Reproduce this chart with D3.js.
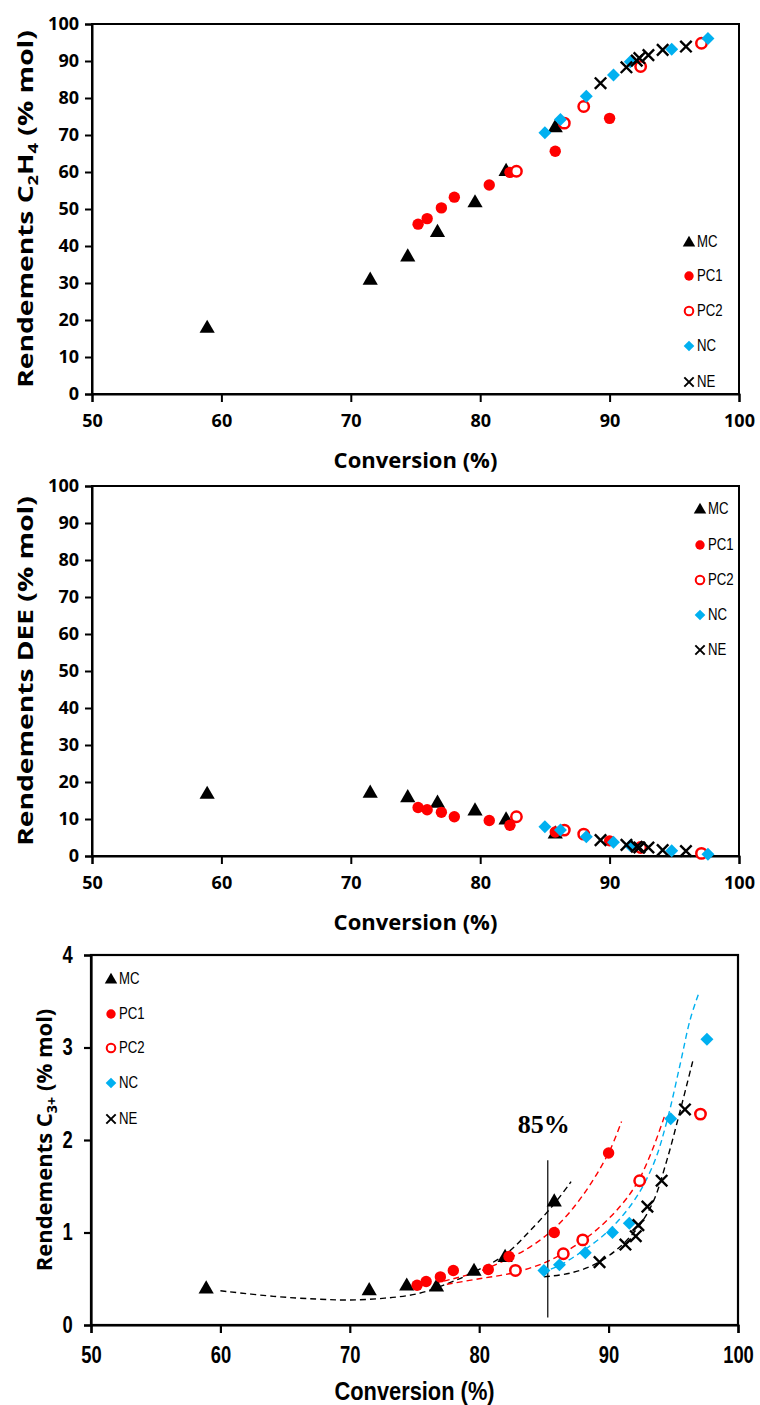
<!DOCTYPE html>
<html><head><meta charset="utf-8">
<script src="https://cdn.jsdelivr.net/npm/d3@7"></script>
<style>body{margin:0;background:#fff}svg{display:block}</style>
</head><body>
<svg id="c" width="760" height="1405"></svg>
<script>
// ---------- DATA ----------
const seriesNames = ["MC", "PC1", "PC2", "NC", "NE"];

const convMC  = [58.9, 71.5, 74.4, 76.7, 79.6, 82.0, 85.8];
const convPC1 = [75.2, 75.9, 77.0, 78.0, 80.7, 82.3, 85.8, 90.0];
const convPC2 = [82.8, 86.5, 88.0, 92.4, 97.1];
const convNC  = [85.0, 86.2, 88.2, 90.3, 91.6, 94.8, 97.6];
const convNE  = [89.3, 91.3, 92.1, 92.3, 93.0, 94.1, 95.9];

// Rendements C2H4 (% mol)
const ethMC  = [18.0, 31.0, 37.3, 43.9, 51.9, 60.4, 72.2];
const ethPC1 = [45.9, 47.4, 50.3, 53.2, 56.5, 59.9, 65.6, 74.5];
const ethPC2 = [60.2, 73.2, 77.7, 88.5, 94.8];
const ethNC  = [70.6, 74.2, 80.5, 86.2, 89.8, 93.2, 96.1];
const ethNE  = [84.0, 88.3, 90.1, 90.8, 91.6, 93.0, 93.9];

// Rendements DEE (% mol)
const deeMC  = [16.9, 17.2, 16.0, 14.5, 12.4, 10.0, 6.2];
const deePC1 = [13.1, 12.5, 11.8, 10.6, 9.6, 8.3, 6.5, 4.1];
const deePC2 = [10.6, 7.0, 5.9, 2.3, 0.7];
const deeNC  = [7.9, 7.0, 5.2, 3.7, 2.8, 1.4, 0.5];
const deeNE  = [4.3, 3.0, 2.5, 2.3, 2.3, 1.6, 1.35];

// Rendements C3+ (% mol)
const c3MC  = [0.40, 0.38, 0.43, 0.42, 0.59, 0.74, 1.34];
const c3PC1 = [0.43, 0.47, 0.52, 0.59, 0.60, 0.74, 1.00, 1.86];
const c3PC2 = [0.59, 0.77, 0.92, 1.56, 2.28];
const c3NC  = [0.59, 0.65, 0.78, 1.00, 1.10, 2.23, 3.09];
const c3NE  = [0.68, 0.87, 0.96, 1.08, 1.28, 1.56, 2.33];

// dashed trend curves (C3+ chart)
const trendMCx  = [60.0, 64.1, 67.5, 70.0, 72.7, 75.3, 77.6, 79.7, 82.0, 84.0, 85.8, 87.1];
const trendMCy  = [0.37, 0.31, 0.28, 0.27, 0.29, 0.34, 0.45, 0.58, 0.76, 1.03, 1.31, 1.55];
const trendPC1x = [76.5, 78.0, 80.0, 82.0, 84.0, 86.0, 88.0, 90.0, 91.0];
const trendPC1y = [0.45, 0.50, 0.58, 0.70, 0.85, 1.07, 1.40, 1.86, 2.20];
const trendPC2x = [77.5, 80.0, 82.5, 85.0, 87.0, 89.0, 91.0, 92.3, 93.4, 94.3];
const trendPC2y = [0.44, 0.50, 0.56, 0.67, 0.82, 1.02, 1.30, 1.56, 1.90, 2.25];
const trendNCx  = [84.8, 86.0, 88.0, 90.0, 92.0, 93.5, 94.5, 95.5, 96.3, 97.0];
const trendNCy  = [0.57, 0.63, 0.80, 1.02, 1.35, 1.75, 2.20, 2.80, 3.30, 3.60];
const trendNEx  = [85.0, 87.0, 89.0, 91.0, 92.5, 93.5, 94.5, 95.5, 96.5];
const trendNEy  = [0.52, 0.56, 0.66, 0.86, 1.10, 1.35, 1.78, 2.30, 2.85];

const refLineX = [85.3, 85.3];
const refLineY = [0.08, 1.78];
const refLabel = "85%";

const xTicks = [50, 60, 70, 80, 90, 100];
const yTicksPct = [0, 10, 20, 30, 40, 50, 60, 70, 80, 90, 100];
const yTicksC3 = [0, 1, 2, 3, 4];

// ---------- DRAW ----------
const svg = d3.select("#c");
const RED = "#ff0000", BLUE = "#00b0f0", BLK = "#000";
const FONT = "'Open Sans', 'Noto Sans', sans-serif";
const SANS = "'Liberation Sans', Arial, sans-serif";

function zipPts(xs, ys) { return xs.map((x, i) => ({x: x, y: ys[i]})); }

const styles = {
  MC:  {shape: "tri",  color: BLK},
  PC1: {shape: "dot",  color: RED},
  PC2: {shape: "ring", color: RED},
  NC:  {shape: "dia",  color: BLUE},
  NE:  {shape: "x",    color: BLK}
};

function marker(g, shape, color, cx, cy, s) {
  s = s || 1;
  if (shape === "tri") {
    g.append("path").attr("d", d3.symbol(d3.symbolTriangle, 100 * s * s)())
      .attr("transform", `translate(${cx},${cy + 1})`).attr("fill", color);
  } else if (shape === "dot") {
    g.append("circle").attr("cx", cx).attr("cy", cy).attr("r", 5.7 * s).attr("fill", color);
  } else if (shape === "ring") {
    g.append("circle").attr("cx", cx).attr("cy", cy).attr("r", 5.2 * s)
      .attr("fill", "#fff").attr("stroke", color).attr("stroke-width", 2.5 * s);
  } else if (shape === "dia") {
    g.append("path").attr("d", d3.symbol(d3.symbolSquare, 84 * s * s)())
      .attr("transform", `translate(${cx},${cy}) rotate(45)`).attr("fill", color);
  } else if (shape === "x") {
    const r = 5.7 * s;
    g.append("path").attr("d", `M${cx - r},${cy - r}L${cx + r},${cy + r}M${cx - r},${cy + r}L${cx + r},${cy - r}`)
      .attr("stroke", color).attr("stroke-width", 2.4 * s).attr("fill", "none");
  }
}

function panel(cfg) {
  const x = d3.scaleLinear().domain([50, 100]).range([cfg.left, cfg.right]);
  const y = d3.scaleLinear().domain(cfg.yDomain).range([cfg.bottom, cfg.top]);
  const g = svg.append("g");

  g.append("rect").attr("x", cfg.left).attr("y", cfg.top)
    .attr("width", cfg.right - cfg.left).attr("height", cfg.bottom - cfg.top)
    .attr("fill", "none").attr("stroke", "#000").attr("stroke-width", cfg.frameW);

  const xa = g.append("g").attr("transform", `translate(0,${cfg.bottom})`)
    .call(d3.axisBottom(x).tickValues(xTicks).tickSize(8).tickPadding(cfg.xPad).tickFormat(d3.format("d")));
  const ya = g.append("g").attr("transform", `translate(${cfg.left},0)`)
    .call(d3.axisLeft(y).tickValues(cfg.yTicks).tickSize(7).tickPadding(cfg.yPad).tickFormat(d3.format("d")));
  [xa, ya].forEach(a => {
    a.select(".domain").attr("stroke", "#000").attr("stroke-width", cfg.frameW);
    a.selectAll(".tick line").attr("stroke", "#000").attr("stroke-width", cfg.frameW);
    a.selectAll(".tick text").attr("fill", "#000").attr("font-family", cfg.tickFont)
      .attr("font-weight", "bold").attr("font-size", cfg.tickSize);
  });
  if (cfg.tickSX) {
    xa.selectAll(".tick text").attr("transform", `scale(${cfg.tickSX},1)`);
    ya.selectAll(".tick text").attr("transform", `scale(${cfg.tickSX},1)`);
  }

  if (cfg.trends) {
    const line = d3.line().x(d => x(d.x)).y(d => y(d.y)).curve(d3.curveCatmullRom);
    cfg.trends.forEach(t => {
      g.append("path").attr("d", line(t.pts)).attr("fill", "none")
        .attr("stroke", t.color).attr("stroke-width", 1.4).attr("stroke-dasharray", "6,4");
    });
  }
  if (cfg.ref) {
    const pts = zipPts(refLineX, refLineY);
    g.append("line").attr("x1", x(pts[0].x)).attr("x2", x(pts[1].x))
      .attr("y1", y(pts[0].y)).attr("y2", y(pts[1].y)).attr("stroke", "#000").attr("stroke-width", 1.2);
    g.append("text").attr("x", x(pts[0].x) - 4).attr("y", y(pts[1].y) - 27)
      .attr("text-anchor", "middle").attr("font-family", "'Liberation Serif', 'DejaVu Serif', serif")
      .attr("font-weight", "bold").attr("font-size", 26).text(refLabel);
  }

  cfg.series.forEach(s => {
    const st = styles[s.name];
    zipPts(s.xs, s.ys).forEach(p => marker(g, st.shape, st.color, x(p.x), y(p.y)));
  });

  seriesNames.forEach((n, i) => {
    const ly = cfg.legY[i];
    marker(g, styles[n].shape, styles[n].color, cfg.legX, ly, 0.82);
    g.append("text").attr("transform", `translate(${cfg.legX + 8},${ly + 5}) scale(0.88,1.05)`)
      .attr("font-family", SANS).attr("font-size", 15).attr("fill", "#000").text(n);
  });

  g.append("text")
    .attr("transform", `translate(${(cfg.left + cfg.right) / 2},${cfg.xTitleY}) scale(${cfg.xTitleSX},1)`)
    .attr("text-anchor", "middle").attr("font-family", cfg.xTitleFont).attr("font-weight", "bold")
    .attr("font-size", cfg.xTitleSize).text("Conversion (%)");

  const yt = g.append("text")
    .attr("transform", `translate(${cfg.yTitleX},${(cfg.top + cfg.bottom) / 2}) rotate(-90) scale(${cfg.yStretch},1)`)
    .attr("text-anchor", "middle").attr("font-family", FONT).attr("font-weight", "bold")
    .attr("font-size", cfg.yTitleSize);
  cfg.yTitle.forEach(part => {
    const ts = yt.append("tspan").text(part.t);
    if (part.sub) ts.attr("font-size", cfg.yTitleSize * 0.65).attr("dy", 5);
    if (part.after) ts.attr("dy", -5);
  });
}

panel({
  left: 92, right: 739, top: 24, bottom: 394, yDomain: [0, 100], yTicks: yTicksPct,
  frameW: 2, xPad: 12, yPad: 6, tickFont: FONT, tickSize: 18,
  xTitleFont: FONT, xTitleSize: 22, xTitleSX: 1, xTitleY: 468,
  yTitleSize: 22, yStretch: 1.28, yTitleX: 33,
  yTitle: [{t: "Rendements C"}, {t: "2", sub: true}, {t: "H", after: true}, {t: "4", sub: true}, {t: " (% mol)", after: true}],
  legX: 689, legY: [242, 276, 311, 346, 382],
  series: [
    {name: "MC", xs: convMC, ys: ethMC},
    {name: "PC1", xs: convPC1, ys: ethPC1},
    {name: "PC2", xs: convPC2, ys: ethPC2},
    {name: "NC", xs: convNC, ys: ethNC},
    {name: "NE", xs: convNE, ys: ethNE}
  ]
});

panel({
  left: 92, right: 739, top: 486, bottom: 856, yDomain: [0, 100], yTicks: yTicksPct,
  frameW: 2, xPad: 12, yPad: 6, tickFont: FONT, tickSize: 18,
  xTitleFont: FONT, xTitleSize: 22, xTitleSX: 1, xTitleY: 930,
  yTitleSize: 22, yStretch: 1.28, yTitleX: 33,
  yTitle: [{t: "Rendements DEE (% mol)"}],
  legX: 700, legY: [509, 545, 580, 615, 650],
  series: [
    {name: "MC", xs: convMC, ys: deeMC},
    {name: "PC1", xs: convPC1, ys: deePC1},
    {name: "PC2", xs: convPC2, ys: deePC2},
    {name: "NC", xs: convNC, ys: deeNC},
    {name: "NE", xs: convNE, ys: deeNE}
  ]
});

panel({
  left: 91, right: 738, top: 955, bottom: 1325, yDomain: [0, 4], yTicks: yTicksC3,
  frameW: 2.2, xPad: 14, yPad: 16, tickFont: SANS, tickSize: 23, tickSX: 0.8,
  xTitleFont: SANS, xTitleSize: 26, xTitleSX: 0.84, xTitleY: 1400,
  yTitleSize: 22, yStretch: 1.0, yTitleX: 52,
  yTitle: [{t: "Rendements C"}, {t: "3+", sub: true}, {t: " (% mol)", after: true}],
  legX: 111, legY: [979, 1014, 1048, 1083, 1119],
  trends: [
    {color: BLK, pts: zipPts(trendMCx, trendMCy)},
    {color: RED, pts: zipPts(trendPC1x, trendPC1y)},
    {color: RED, pts: zipPts(trendPC2x, trendPC2y)},
    {color: BLUE, pts: zipPts(trendNCx, trendNCy)},
    {color: BLK, pts: zipPts(trendNEx, trendNEy)}
  ],
  ref: true,
  series: [
    {name: "MC", xs: convMC, ys: c3MC},
    {name: "PC1", xs: convPC1, ys: c3PC1},
    {name: "PC2", xs: convPC2, ys: c3PC2},
    {name: "NC", xs: convNC, ys: c3NC},
    {name: "NE", xs: convNE, ys: c3NE}
  ]
});
</script>
</body></html>
